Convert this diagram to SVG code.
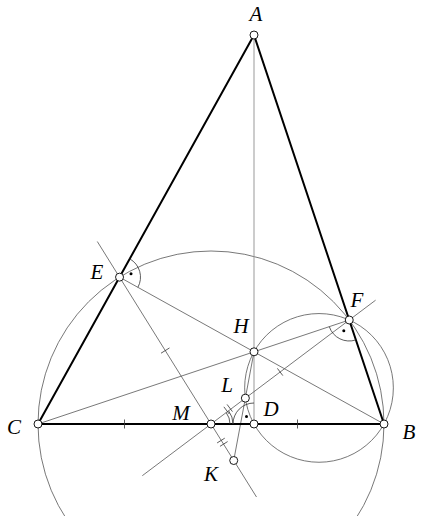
<svg xmlns="http://www.w3.org/2000/svg" width="422" height="516" viewBox="0 0 422 516">
<style>
.thin{fill:none;stroke:#555;stroke-width:0.8}
.alt{fill:none;stroke:#999;stroke-width:1}
.side{fill:none;stroke:#000;stroke-width:2;stroke-linecap:round}
.mark{fill:none;stroke:#333;stroke-width:0.8}
.pt{fill:#fff;stroke:#000;stroke-width:0.9}
.dot{fill:#000}
.lbl{font-family:"Liberation Serif",serif;font-style:italic;font-size:21px;fill:#000;text-anchor:middle}
</style>
<rect width="422" height="516" fill="#fff"/>
<g id="connectors">
<circle class="thin" cx="211" cy="424" r="173"/>
<circle class="thin" cx="319" cy="387.9" r="74.35"/>
<line class="alt" x1="254" y1="35" x2="254" y2="424"/>
<line class="thin" x1="384" y1="424" x2="119.54" y2="277.15"/>
<line class="thin" x1="38" y1="424" x2="349.24" y2="319.99"/>
<line class="thin" x1="97.3" y1="241.5" x2="256.5" y2="497"/>
<line class="thin" x1="142.3" y1="475.7" x2="375.6" y2="300.2"/>
<line class="thin" x1="254" y1="351.81" x2="233.73" y2="460.5"/>
<line class="side" x1="254" y1="35" x2="38" y2="424"/>
<line class="side" x1="254" y1="35" x2="384" y2="424"/>
<line class="side" x1="38" y1="424" x2="384" y2="424"/>
</g>
<g id="marks">
<line class="mark" x1="124.5" y1="419.5" x2="124.5" y2="428.5"/>
<line class="mark" x1="297.5" y1="419.5" x2="297.5" y2="428.5"/>
<line class="mark" x1="161.03" y1="353.21" x2="169.51" y2="347.93"/>
<line class="mark" x1="277.42" y1="368.4" x2="282.82" y2="375.6"/>
<line class="mark" x1="223.87" y1="406.84" x2="229.28" y2="414.03"/>
<line class="mark" x1="227.07" y1="404.43" x2="232.48" y2="411.63"/>
<line class="mark" x1="217.12" y1="442.93" x2="224.76" y2="438.17"/>
<line class="mark" x1="219.98" y1="446.33" x2="227.62" y2="441.57"/>
<path class="mark" d="M129.7,258.8 A21,21 0 0 1 137.9,287.3"/>
<circle class="dot" cx="131" cy="273.8" r="1.5"/>
<path class="mark" d="M355.9,339.9 A21,21 0 0 1 329.3,326.7"/>
<circle class="dot" cx="343.8" cy="330.7" r="1.5"/>
<path class="mark" d="M233,424 A21,21 0 0 1 254,403"/>
<circle class="dot" cx="246.5" cy="416.5" r="1.5"/>
<path class="mark" d="M230,424 A19,19 0 0 0 226.2,412.6"/>
<path class="mark" d="M233,424 A22,22 0 0 0 228.6,410.8"/>
</g>
<g id="A"><circle class="pt" cx="254" cy="35" r="4"/><text class="lbl" x="256" y="21">A</text></g>
<g id="B"><circle class="pt" cx="384" cy="424" r="4"/><text class="lbl" x="409" y="439">B</text></g>
<g id="C"><circle class="pt" cx="38" cy="424" r="4"/><text class="lbl" x="14" y="434">C</text></g>
<g id="D"><circle class="pt" cx="254" cy="424" r="4"/><text class="lbl" x="271" y="416">D</text></g>
<g id="E"><circle class="pt" cx="119.54" cy="277.15" r="4"/><text class="lbl" x="97" y="279">E</text></g>
<g id="F"><circle class="pt" cx="349.24" cy="319.99" r="4"/><text class="lbl" x="357" y="307">F</text></g>
<g id="H"><circle class="pt" cx="254" cy="351.81" r="4"/><text class="lbl" x="241" y="333">H</text></g>
<g id="L"><circle class="pt" cx="245.36" cy="398.15" r="4"/><text class="lbl" x="227" y="392">L</text></g>
<g id="M"><circle class="pt" cx="211" cy="424" r="4"/><text class="lbl" x="181" y="420">M</text></g>
<g id="K"><circle class="pt" cx="233.73" cy="460.5" r="4"/><text class="lbl" x="211" y="481">K</text></g>
</svg>
